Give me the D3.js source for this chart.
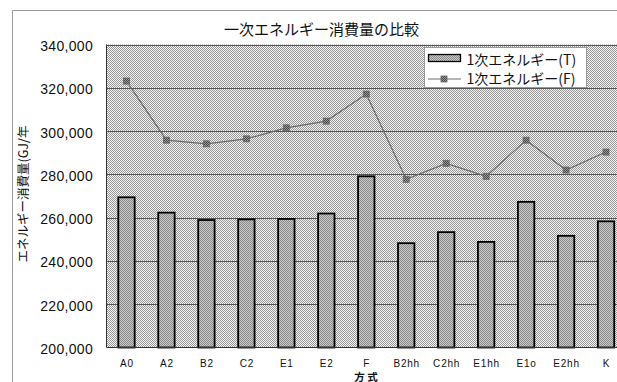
<!DOCTYPE html>
<html>
<head>
<meta charset="utf-8">
<script src="https://cdn.jsdelivr.net/npm/d3@7"></script>
<style>
  html, body { margin: 0; padding: 0; background: #fff; }
  svg { display: block; }
</style>
</head>
<body>
<svg id="chart" width="617" height="382"></svg>
<script>
// Primary energy consumption by system type (GJ/year)
const categories = ["A0", "A2", "B2", "C2", "E1", "E2", "F", "B2hh", "C2hh", "E1hh", "E1o", "E2hh", "K"];
const seriesT = [269400, 262300, 258900, 259200, 259400, 261900, 279100, 248200, 253300, 248800, 267300, 251600, 258300];
const seriesF = [323100, 295800, 294100, 296400, 301500, 304600, 317100, 277700, 285100, 279100, 295800, 282000, 290300];
const yTicks = [200000, 220000, 240000, 260000, 280000, 300000, 320000, 340000];
const titleText = "一次エネルギー消費量の比較";
const yTitle = "エネルギー消費量(GJ/年";
const xTitle = "方 式";
const legendT = "1次エネルギー(T)";
const legendF = "1次エネルギー(F)";

const svg = d3.select("#chart");
const plot = { left: 106.5, right: 626, top: 44.5, bottom: 347.5 };

// Dither patterns for plot area, bars and markers
const defs = svg.append("defs");
function checker(id, a, b) {
  const p = defs.append("pattern").attr("id", id)
    .attr("patternUnits", "userSpaceOnUse").attr("width", 2).attr("height", 2);
  p.append("rect").attr("width", 2).attr("height", 2).attr("fill", a);
  p.append("rect").attr("width", 1).attr("height", 1).attr("fill", b);
  p.append("rect").attr("x", 1).attr("y", 1).attr("width", 1).attr("height", 1).attr("fill", b);
}
checker("bgPat", "#f4f4f4", "#969696");
checker("barPat", "#c8c8c8", "#8c8c8c");
checker("mkPat", "#9a9a9a", "#444");

const x = d3.scaleBand().domain(categories)
  .range([plot.left, plot.right]).paddingInner(0.59).paddingOuter(0.295);
const y = d3.scaleLinear().domain([200000, 340000]).range([plot.bottom, plot.top]);

// Outer chart frame
svg.append("path").attr("d", "M12.5,400V10.5H640")
  .attr("fill", "none").attr("stroke", "#9a9a9a").attr("stroke-width", 1);

// Plot area background
svg.append("rect")
  .attr("x", plot.left).attr("y", plot.top)
  .attr("width", plot.right - plot.left).attr("height", plot.bottom - plot.top)
  .attr("fill", "url(#bgPat)");

// Gridlines
svg.append("g").selectAll("line").data(yTicks.slice(1)).join("line")
  .attr("x1", plot.left).attr("x2", plot.right)
  .attr("y1", d => Math.round(y(d)) + 0.5).attr("y2", d => Math.round(y(d)) + 0.5)
  .attr("stroke", "#555").attr("stroke-width", 1);

// Bars (T)
svg.append("g").selectAll("rect").data(categories).join("rect")
  .attr("x", d => x(d))
  .attr("y", (d, i) => y(seriesT[i]))
  .attr("width", x.bandwidth())
  .attr("height", (d, i) => y(200000) - y(seriesT[i]))
  .attr("fill", "url(#barPat)")
  .attr("stroke", "#000").attr("stroke-width", 1.8);

// Axis lines
svg.append("line").attr("x1", plot.left).attr("x2", plot.left)
  .attr("y1", plot.top).attr("y2", plot.bottom).attr("stroke", "#333");
svg.append("line").attr("x1", plot.left).attr("x2", plot.right)
  .attr("y1", plot.bottom).attr("y2", plot.bottom).attr("stroke", "#333");

// Line (F)
const cx = d => x(d) + x.bandwidth() / 2;
svg.append("path").datum(categories)
  .attr("d", d3.line().x(cx).y((d, i) => y(seriesF[i])))
  .attr("fill", "none").attr("stroke", "#6a6a6a").attr("stroke-width", 1.2);
svg.append("g").selectAll("rect").data(categories).join("rect")
  .attr("x", d => cx(d) - 3).attr("y", (d, i) => y(seriesF[i]) - 3)
  .attr("width", 6).attr("height", 6)
  .attr("fill", "url(#mkPat)").attr("stroke", "#666").attr("stroke-width", 0.8);

// Y axis labels
const numFmt = d3.format(",");
svg.append("g").selectAll("text").data(yTicks).join("text")
  .attr("x", 93).attr("y", d => y(d) + 6.5)
  .attr("text-anchor", "end")
  .attr("font-family", "Liberation Sans, Arial, sans-serif")
  .attr("font-size", 14).attr("letter-spacing", 0.3)
  .attr("fill", "#111")
  .text(d => numFmt(d));

// X axis labels
svg.append("g").selectAll("text").data(categories).join("text")
  .attr("x", d => cx(d) + 0.5).attr("y", 367)
  .attr("text-anchor", "middle")
  .attr("font-family", "Liberation Sans, Arial, sans-serif")
  .attr("font-size", 10).attr("letter-spacing", 0.8)
  .attr("fill", "#111")
  .text(d => d);

// Titles
svg.append("text").attr("x", 321.5).attr("y", 35)
  .attr("text-anchor", "middle")
  .attr("font-family", "Noto Sans CJK JP, sans-serif").attr("font-size", 15)
  .attr("fill", "#111").text(titleText);
svg.append("text").attr("x", 366).attr("y", 380.5)
  .attr("text-anchor", "middle")
  .attr("font-family", "Noto Sans CJK JP, sans-serif").attr("font-size", 10.5)
  .attr("font-weight", "bold")
  .attr("fill", "#111").text(xTitle);
svg.append("text")
  .attr("transform", "translate(27.5,194) rotate(-90)")
  .attr("text-anchor", "middle")
  .attr("font-family", "Noto Sans CJK JP, sans-serif").attr("font-size", 12.5)
  .attr("fill", "#111").text(yTitle);

// Legend
const lg = svg.append("g");
lg.append("rect").attr("x", 424.5).attr("y", 47.5).attr("width", 162).attr("height", 40)
  .attr("fill", "#fff").attr("stroke", "#999");
lg.append("rect").attr("x", 428.5).attr("y", 54.5).attr("width", 32).attr("height", 7)
  .attr("fill", "url(#barPat)").attr("stroke", "#000").attr("stroke-width", 1.3);
lg.append("line").attr("x1", 428).attr("x2", 461).attr("y1", 79).attr("y2", 79)
  .attr("stroke", "#6a6a6a").attr("stroke-width", 1.2);
lg.append("rect").attr("x", 441).attr("y", 76).attr("width", 6).attr("height", 6)
  .attr("fill", "url(#mkPat)").attr("stroke", "#666").attr("stroke-width", 0.8);
lg.append("text").attr("x", 466.5).attr("y", 65)
  .attr("font-family", "Noto Sans CJK JP, sans-serif").attr("font-size", 14)
  .attr("fill", "#111").text(legendT);
lg.append("text").attr("x", 466.5).attr("y", 84)
  .attr("font-family", "Noto Sans CJK JP, sans-serif").attr("font-size", 14)
  .attr("fill", "#111").text(legendF);
</script>
</body>
</html>
